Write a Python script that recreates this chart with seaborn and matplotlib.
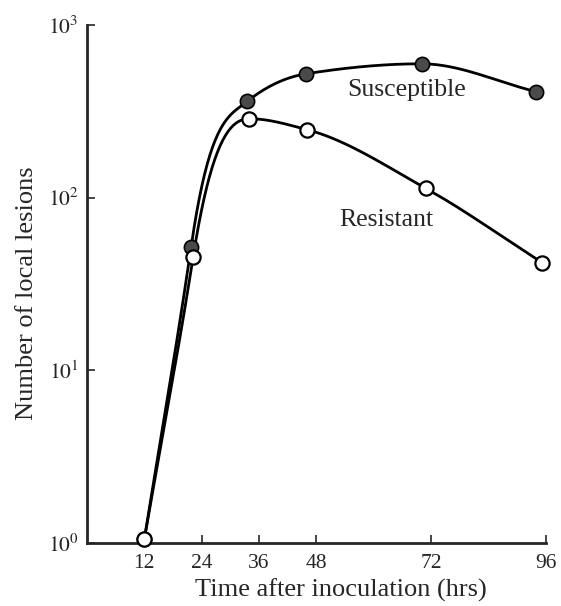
import numpy as np
import pandas as pd
import matplotlib
matplotlib.use("Agg")
import matplotlib.pyplot as plt
import seaborn as sns

# ---- data ----
sus_hours = [12, 21.8, 33.5, 45.9, 70.0, 94.0]
sus_lesions = [1.05, 52, 360, 521, 595, 410]
res_hours = [12, 22.2, 34.0, 46.1, 70.9, 95.2]
res_lesions = [1.05, 45, 286, 247, 113, 42]
x_ticks = [12, 24, 36, 48, 72, 96]
y_ticks = [1, 10, 100, 1000]
y_tick_labels = [r"$10^{0}$", r"$10^{1}$", r"$10^{2}$", r"$10^{3}$"]
series_names = ["Susceptible", "Resistant"]


def smooth_curve(x, y, n=300):
    """Monotone cubic Hermite curve through points in log10 space."""
    x = np.asarray(x, float)
    ly = np.log10(np.asarray(y, float))
    h = np.diff(x)
    d = np.diff(ly) / h
    m = np.zeros_like(ly)
    m[0] = d[0]
    m[-1] = d[-1]
    for k in range(1, len(x) - 1):
        if d[k - 1] * d[k] <= 0:
            m[k] = 0.0
        else:
            w1 = 2 * h[k] + h[k - 1]
            w2 = h[k] + 2 * h[k - 1]
            m[k] = (w1 + w2) / (w1 / d[k - 1] + w2 / d[k])
    # the steep initial rise continues through the second point
    m[1] = min(d[0] * 1.1, 2.9 * d[1])
    xs = np.linspace(x[0], x[-1], n)
    idx = np.clip(np.searchsorted(x, xs) - 1, 0, len(x) - 2)
    t = (xs - x[idx]) / h[idx]
    h00 = 2 * t**3 - 3 * t**2 + 1
    h10 = t**3 - 2 * t**2 + t
    h01 = -2 * t**3 + 3 * t**2
    h11 = t**3 - t**2
    lys = h00 * ly[idx] + h10 * h[idx] * m[idx] + h01 * ly[idx + 1] + h11 * h[idx] * m[idx + 1]
    return xs, 10 ** lys


sns.set_style("ticks")
plt.rcParams["font.family"] = ["Liberation Serif", "DejaVu Serif"]
plt.rcParams["mathtext.fontset"] = "stix"

fig = plt.figure(figsize=(5.61, 6.06), dpi=100)
ax = fig.add_axes([0.155, 0.104, 0.818, 0.855])

pts = pd.DataFrame({
    "hours": sus_hours + res_hours,
    "lesions": sus_lesions + res_lesions,
    "group": [series_names[0]] * len(sus_hours) + [series_names[1]] * len(res_hours),
})

curves = []
for name, hx, ly in [(series_names[0], sus_hours, sus_lesions), (series_names[1], res_hours, res_lesions)]:
    xs, ys = smooth_curve(hx, ly)
    curves.append(pd.DataFrame({"hours": xs, "lesions": ys, "group": name}))
curves = pd.concat(curves)

sns.lineplot(data=curves, x="hours", y="lesions", hue="group",
             palette={"Susceptible": "black", "Resistant": "black"},
             linewidth=2.0, legend=False, ax=ax, zorder=2, sort=False, estimator=None)

sus_df = pts[pts.group == "Susceptible"]
res_df = pts[pts.group == "Resistant"]
sns.scatterplot(data=sus_df, x="hours", y="lesions", color="#4a4a4a", edgecolor="black",
                linewidth=1.2, s=105, ax=ax, zorder=3, legend=False, clip_on=False)
sns.scatterplot(data=res_df, x="hours", y="lesions", color="white", edgecolor="black",
                linewidth=1.6, s=105, ax=ax, zorder=4, legend=False, clip_on=False)

ax.set_yscale("log")
ax.set_xlim(0, 96)
ax.set_ylim(1, 1000)
ax.set_xticks(x_ticks)
ax.set_xticklabels([str(v) for v in x_ticks])
ax.set_yticks(y_ticks)
ax.set_yticklabels(y_tick_labels)
ax.yaxis.set_minor_locator(matplotlib.ticker.NullLocator())
ax.tick_params(axis="both", direction="in", length=6, width=1.2, labelsize=15.5, pad=8)
ax.tick_params(axis="y", pad=6)
for s in ["top", "right"]:
    ax.spines[s].set_visible(False)
for s in ["left", "bottom"]:
    ax.spines[s].set_linewidth(2.0)

ax.set_xlabel("Time after inoculation (hrs)", fontsize=19)
ax.set_ylabel("Number of local lesions", fontsize=19)
ax.xaxis.set_label_coords(0.553, -0.068)
ax.yaxis.set_label_coords(-0.106, 0.483)

ax.text(66.9, 421, "Susceptible", fontsize=18.5, ha="center", va="center")
ax.text(62.7, 74.6, "Resistant", fontsize=18.5, ha="center", va="center")

fig.savefig("out.png", dpi=100)
